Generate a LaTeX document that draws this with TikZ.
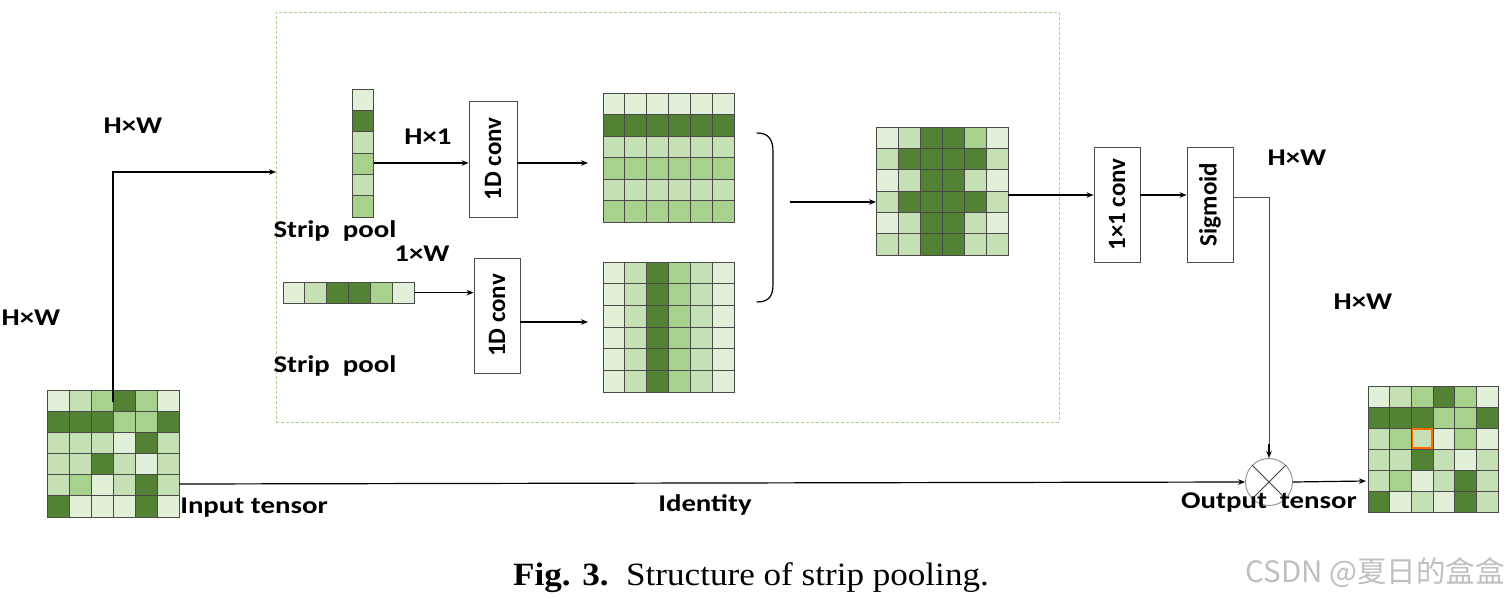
\documentclass[tikz,border=0pt]{standalone}
\usepackage{fontspec}
\usetikzlibrary{arrows.meta,calc}
\newfontfamily\lab{Carlito}[FakeStretch=1.2]
\newfontfamily\labr{Carlito}
\newfontfamily\capf{Liberation Serif}[FakeStretch=1.08]
\newfontfamily\cjk{Noto Sans CJK SC}
\definecolor{ga}{HTML}{E2F0D9}
\definecolor{gb}{HTML}{C5E0B4}
\definecolor{gc}{HTML}{A9D18E}
\definecolor{gd}{HTML}{548235}
\definecolor{gline}{HTML}{4A4A4A}
\definecolor{dashg}{HTML}{A9D18E}
\newcommand\tgrid[5]{%
  \foreach \row [count=\r from 0] in {#5} {
    \foreach \cc [count=\k from 0] in \row {
      \filldraw[fill=g\cc, draw=gline, line width=0.8pt] ({#1+\k*#3},{#2+\r*#4}) rectangle ++(#3,#4);
    }
  }%
}
\tikzset{
  lbl/.style={font=\lab\bfseries\fontsize{24}{26}\selectfont, inner sep=0pt},
  convbox/.style={draw=black!70, line width=0.8pt, fill=white, inner sep=0pt, font=\labr\bfseries\fontsize{25}{27}\selectfont},
  gridbox/.style={inner sep=0pt, anchor=north west},
  arr/.style={line width=1.2pt, -{Stealth[length=7pt,width=5.5pt]}},
  ln/.style={line width=1.2pt}
}
\begin{document}
\begin{tikzpicture}[x=1pt,y=-1pt]
\useasboundingbox (0,0) rectangle (1509,599);

% dashed frame
\node[draw=dashg, dash pattern=on 3pt off 2pt, line width=0.9pt, inner sep=0pt, anchor=north west, minimum width=783pt, minimum height=410pt] (dbox) at (276,12) {};

% input grid
\node[gridbox, minimum width=132pt, minimum height=127pt] (gin) at (47,390) {};
\tgrid{47}{390}{22}{21.17}{{a,b,c,d,c,a},{d,d,d,c,c,d},{b,b,b,a,d,b},{b,b,d,b,a,b},{b,c,a,b,d,b},{d,a,a,a,d,a}}

% vertical strip
\node[gridbox, minimum width=21pt, minimum height=128pt] (vs) at (352,89) {};
\tgrid{352}{89}{21}{21.33}{{a},{d},{b},{c},{b},{c}}

% horizontal strip
\node[gridbox, minimum width=131pt, minimum height=21pt] (hs) at (283,282) {};
\tgrid{283}{282}{21.83}{21}{{a,b,d,d,c,a}}

% H x 1 grid
\node[gridbox, minimum width=131pt, minimum height=129pt] (g1) at (603,93) {};
\tgrid{603}{93}{21.83}{21.5}{{a,a,a,a,a,a},{d,d,d,d,d,d},{b,b,b,b,b,b},{c,c,c,c,c,c},{b,b,b,b,b,b},{c,c,c,c,c,c}}

% 1 x W grid
\node[gridbox, minimum width=131pt, minimum height=130pt] (g2) at (603,262) {};
\tgrid{603}{262}{21.83}{21.67}{{a,b,d,c,b,a},{a,b,d,c,b,a},{a,b,d,c,b,a},{a,b,d,c,b,a},{a,b,d,c,b,a},{a,b,d,c,b,a}}

% combined grid
\node[gridbox, minimum width=132pt, minimum height=128pt] (comb) at (876,127) {};
\tgrid{876}{127}{22}{21.33}{{a,b,d,d,c,a},{b,d,d,d,d,b},{a,b,d,d,b,a},{b,d,d,d,d,b},{a,b,d,d,b,a},{b,b,d,d,b,b}}

% output grid
\node[gridbox, minimum width=130pt, minimum height=126pt] (gout) at (1368,386) {};
\tgrid{1368}{386}{21.67}{21}{{a,b,c,d,c,a},{d,d,d,c,c,d},{b,c,b,a,c,a},{b,b,d,b,a,b},{b,c,a,b,d,b},{d,a,b,a,d,b}}
\draw[draw=orange!85!red, line width=1.3pt] (1412.3,429) rectangle ++(19.7,19);

% boxes
\node[convbox, minimum width=48pt, minimum height=116pt] (c1) at (493,159) {\rotatebox{90}{1D conv}};
\node[convbox, minimum width=46pt, minimum height=115pt] (c2) at (497,315.5) {\rotatebox{90}{1D conv}};
\node[convbox, minimum width=46pt, minimum height=115pt] (c3) at (1117,204.5) {\rotatebox{90}{1×1 conv}};
\node[convbox, minimum width=46pt, minimum height=115pt] (sig) at (1210,204.5) {\rotatebox{90}{Sigmoid}};

% multiply
\node[circle, draw=black!45, line width=0.9pt, minimum size=47pt, inner sep=0pt] (mul) at (1269,482) {};
\draw[black!75, line width=0.9pt] (mul.north west) -- (mul.south east);
\draw[black!75, line width=0.9pt] (mul.north east) -- (mul.south west);

% labels
\node[lbl] (l1) at (133,126) {H×W};
\node[lbl] (l2) at (31,318) {H×W};
\node[lbl] (l3) at (428,137) {H×1};
\node[lbl] (l4) at (335,231) {Strip\ \ pool};
\node[lbl] (l5) at (422,254) {1×W};
\node[lbl] (l6) at (335,366) {Strip\ \ pool};
\node[lbl] (l7) at (254,508) {Input tensor};
\node[lbl] (l8) at (705,505) {Identity};
\node[lbl] (l9) at (1269,503) {Output\ \ tensor};
\node[lbl] (l10) at (1297,158) {H×W};
\node[lbl] (l11) at (1363,302) {H×W};

% caption and watermark
\node[inner sep=0pt, font=\capf\fontsize{32.5}{36}\selectfont] (cap) at (751,578) {\textbf{Fig. 3.}\ \ Structure of strip pooling.};
\node[inner sep=0pt, text=black!25, font=\cjk\fontsize{29.5}{32}\selectfont] (wm) at (1375,573) {CSDN @夏日的盒盒};

% connectors
\coordinate (upA) at (113,402);
\coordinate (upB) at (276,172);
\draw[line width=2pt] (upA) -- (upA |- upB);
\draw[arr] ($(upA |- upB)+(-1,0)$) -- (upB);

\coordinate (a1) at (374,163);
\draw[arr] (a1) -- (a1 -| c1.west);
\coordinate (a2) at (588,163);
\draw[arr] (c1.east |- a2) -- (a2);

\draw[arr] (hs.east) -- (hs.east -| c2.west);
\coordinate (b2) at (588,322);
\draw[arr] (c2.east |- b2) -- (b2);

\draw[ln, line cap=round] (757,133) .. controls (769,133) and (773,140) .. (773,152) -- (773,284) .. controls (773,296) and (769,302) .. (757,302);
\coordinate (br) at (790,202);
\draw[arr] (br) -- (br -| comb.west);

\coordinate (cc) at (1008,195);
\draw[arr] (cc) -- (cc -| c3.west);
\draw[arr] (c3.east |- cc) -- (cc -| sig.west);
\coordinate (sg) at (1233,197);
\draw[line width=0.9pt, black!70] (sg) -| ($(mul.north)+(0,-12)$);
\draw[arr] ($(mul.north)+(0,-14)$) -- (mul.north);

\coordinate (idA) at (179,484);
\draw[arr] (idA) -- (mul.west);
\coordinate (oe) at (1366,481);
\draw[arr] (mul.east) -- (oe);
\end{tikzpicture}
\end{document}
